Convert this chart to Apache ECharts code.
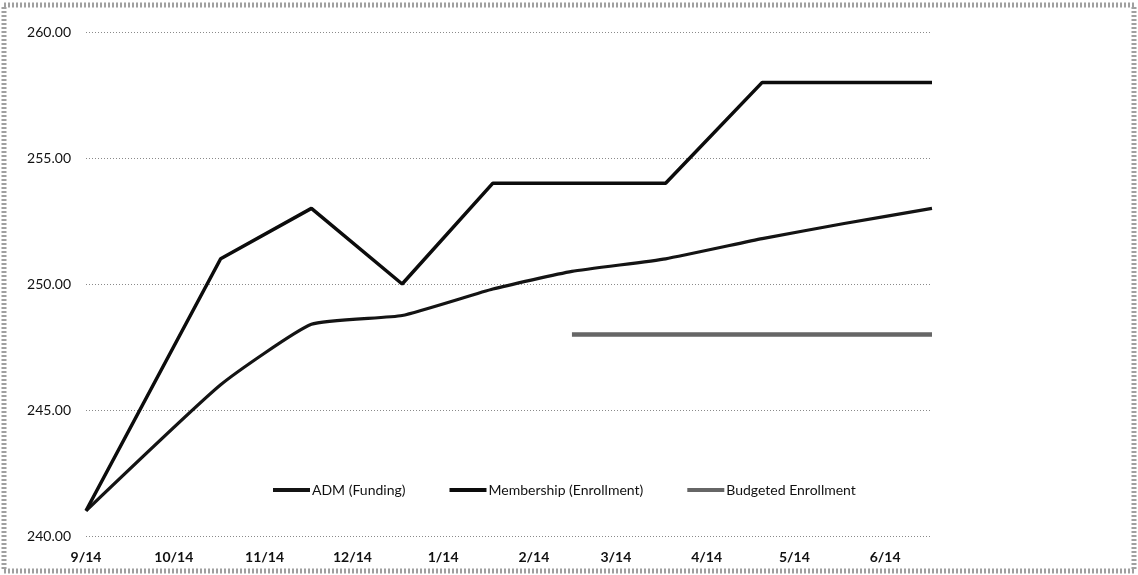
<!DOCTYPE html>
<html>
<head>
<meta charset="utf-8">
<script src="https://cdn.jsdelivr.net/npm/echarts@6/dist/echarts.min.js"></script>
<style>
  html, body { margin: 0; padding: 0; background: #fff; }
  #chart { width: 1138px; height: 575px; }
</style>
</head>
<body>
<div id="chart"></div>
<script>
// ---- data ----
const dates = ['2013-09-01', '2013-10-17', '2013-11-17', '2013-12-18', '2014-01-18',
               '2014-02-14', '2014-03-18', '2014-04-20', '2014-05-18', '2014-06-17'];
const admFunding = [241, 246, 248.4, 248.75, 249.8, 250.5, 251.0, 251.8, 252.4, 253.0];
const membership = [241, 251, 253, 250, 254, 254, 254, 258, 258, 258];
const budgeted = [null, null, null, null, null, 248, 248, 248, 248, 248];
const monthLabels = ['9/14', '10/14', '11/14', '12/14', '1/14', '2/14', '3/14', '4/14', '5/14', '6/14'];
const seriesNames = ['ADM (Funding)', 'Membership (Enrollment)', 'Budgeted Enrollment'];
const yTicks = [240, 245, 250, 255, 260];

const pair = (vals) => dates.map((d, i) => [d, vals[i]]);

const chart = echarts.init(document.getElementById('chart'));
const font = 'Lato, "Liberation Sans", sans-serif';
const DAY = 86400000;

chart.setOption({
  animation: false,
  backgroundColor: '#fff',
  textStyle: { fontFamily: font },
  graphic: [{
    type: 'rect',
    shape: { x: 4, y: 5, width: 1130, height: 566 },
    style: { fill: 'none', stroke: '#a0a0a0', lineWidth: 5, lineDash: [2, 2] },
    silent: true
  }],
  grid: { left: 86, right: 206, top: 32, bottom: 39, containLabel: false },
  legend: {
    left: 268,
    top: 478,
    icon: 'rect',
    itemWidth: 37,
    itemHeight: 4,
    itemGap: 44,
    textStyle: { fontFamily: font, fontSize: 14, color: '#111', padding: [0, 0, 0, -3] },
    data: seriesNames
  },
  xAxis: {
    type: 'time',
    min: dates[0],
    max: dates[dates.length - 1],
    minInterval: 28 * DAY,
    maxInterval: 31 * DAY,
    splitNumber: 10,
    axisLine: { show: false },
    axisTick: { show: false },
    splitLine: { show: false },
    axisLabel: {
      margin: 14,
      fontSize: 14,
      fontWeight: 'bold',
      color: '#111',
      fontFamily: font,
      hideOverlap: false,
      formatter: function (val) {
        const m = new Date(val).getMonth();
        return monthLabels[(m - 8 + 12) % 12];
      }
    }
  },
  yAxis: {
    type: 'value',
    min: yTicks[0],
    max: yTicks[yTicks.length - 1],
    interval: 5,
    axisLine: { show: false },
    axisTick: { show: false },
    axisLabel: {
      margin: 15,
      fontSize: 14,
      color: '#111',
      fontFamily: font,
      formatter: (v) => v.toFixed(2)
    },
    splitLine: { lineStyle: { color: '#8a8a8a', type: [1, 2], width: 1 } }
  },
  series: [
    {
      name: seriesNames[0],
      type: 'line',
      data: pair(admFunding),
      smooth: 0.15,
      symbol: 'none',
      lineStyle: { color: '#141414', width: 3.2 },
      itemStyle: { color: '#141414' }
    },
    {
      name: seriesNames[1],
      type: 'line',
      data: pair(membership),
      symbol: 'none',
      lineStyle: { color: '#0c0c0c', width: 3.5 },
      itemStyle: { color: '#0c0c0c' }
    },
    {
      name: seriesNames[2],
      type: 'line',
      data: pair(budgeted),
      symbol: 'none',
      connectNulls: false,
      lineStyle: { color: '#666666', width: 4.5 },
      itemStyle: { color: '#666666' }
    }
  ]
});
</script>
</body>
</html>
